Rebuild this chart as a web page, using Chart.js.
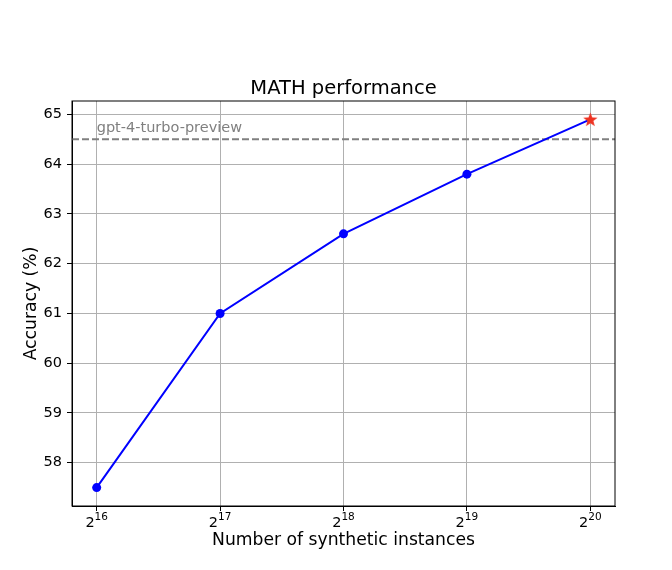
<!DOCTYPE html>
<html>
<head>
<meta charset="utf-8">
<script src="https://cdn.jsdelivr.net/npm/chart.js@4.4.1/dist/chart.umd.min.js"></script>
<style>
  body { margin: 0; background: #fff; }
  #wrap { width: 672px; height: 570px; }
</style>
</head>
<body>
<div id="wrap"><canvas id="mathChart" width="672" height="570"></canvas></div>
<script>
// x = log2 of the number of synthetic instances
const exponents = [16, 17, 18, 19, 20];
const accuracy = [57.5, 61.0, 62.6, 63.8, 64.9];
const yTicks = [58, 59, 60, 61, 62, 63, 64, 65];
const refValue = 64.5;
const refLabel = 'gpt-4-turbo-preview';
const chartTitle = 'MATH performance';

const FONT = 'DejaVu Sans';

// filled five-point star for the last point
function makeStar(r, color) {
  const c = document.createElement('canvas');
  const s = Math.ceil(r * 2 + 2);
  c.width = s; c.height = s;
  const g = c.getContext('2d');
  g.fillStyle = color;
  g.beginPath();
  for (let i = 0; i < 10; i++) {
    const rad = i % 2 === 0 ? r : r * 0.42;
    const a = -Math.PI / 2 + i * Math.PI / 5;
    const px = s / 2 + rad * Math.cos(a);
    const py = s / 2 + 0.6 + rad * Math.sin(a);
    if (i === 0) g.moveTo(px, py); else g.lineTo(px, py);
  }
  g.closePath();
  g.fill();
  return c;
}
const star = makeStar(7.5, '#ee3322');

const points = exponents.map((e, i) => ({ x: e, y: accuracy[i] }));
const last = points.length - 1;

const extras = {
  id: 'extras',
  beforeDatasetsDraw(chart) {
    const { ctx, chartArea, scales } = chart;
    const y = scales.y.getPixelForValue(refValue);
    ctx.save();
    ctx.strokeStyle = '#808080';
    ctx.lineWidth = 2;
    ctx.setLineDash([7, 3]);
    ctx.beginPath();
    ctx.moveTo(chartArea.left, y);
    ctx.lineTo(chartArea.right, y);
    ctx.stroke();
    ctx.setLineDash([]);
    ctx.fillStyle = '#808080';
    ctx.font = '14.5px "' + FONT + '"';
    ctx.textAlign = 'left';
    ctx.textBaseline = 'alphabetic';
    ctx.fillText(refLabel, scales.x.getPixelForValue(exponents[0]), y - 7.5);
    ctx.restore();
  },
  afterDraw(chart) {
    const { ctx, chartArea, scales } = chart;
    ctx.save();
    // four black spines
    ctx.strokeStyle = '#000';
    ctx.lineWidth = 1;
    ctx.strokeRect(chartArea.left, chartArea.top, chartArea.right - chartArea.left, chartArea.bottom - chartArea.top);
    // title centred over the axes
    ctx.fillStyle = '#000';
    ctx.font = '19.5px "' + FONT + '"';
    ctx.textAlign = 'center';
    ctx.textBaseline = 'alphabetic';
    ctx.fillText(chartTitle, (chartArea.left + chartArea.right) / 2, chartArea.top - 7);
    // x tick labels as 2^n
    ctx.textAlign = 'left';
    exponents.forEach(e => {
      const x = scales.x.getPixelForValue(e);
      ctx.font = '14.5px "' + FONT + '"';
      const wb = ctx.measureText('2').width;
      ctx.font = '10.5px "' + FONT + '"';
      const we = ctx.measureText(String(e)).width;
      const x0 = x - (wb + we) / 2;
      ctx.font = '14.5px "' + FONT + '"';
      ctx.fillText('2', x0, chartArea.bottom + 21);
      ctx.font = '10.5px "' + FONT + '"';
      ctx.fillText(String(e), x0 + wb, chartArea.bottom + 14);
    });
    ctx.restore();
  }
};

new Chart(document.getElementById('mathChart'), {
  type: 'line',
  data: {
    datasets: [{
      data: points,
      borderColor: '#0000ff',
      backgroundColor: '#0000ff',
      borderWidth: 2,
      pointRadius: points.map((p, i) => i === last ? 7.5 : 4.5),
      pointStyle: points.map((p, i) => i === last ? star : 'circle'),
      pointBorderWidth: 0,
      pointBackgroundColor: '#0000ff',
      tension: 0
    }]
  },
  options: {
    responsive: false,
    animation: false,
    devicePixelRatio: 1,
    layout: { autoPadding: false, padding: { top: 101, left: 0, right: 57, bottom: 0 } },
    plugins: {
      legend: { display: false },
      tooltip: { enabled: false },
      title: { display: false }
    },
    scales: {
      x: {
        type: 'linear',
        min: 15.8,
        max: 20.2,
        afterBuildTicks: s => { s.ticks = exponents.map(v => ({ value: v })); },
        afterFit: s => { s.height = 64; },
        ticks: { display: false },
        grid: { color: '#b0b0b0', lineWidth: 1, tickColor: '#000', tickLength: 5, drawTicks: true },
        border: { color: '#000', width: 1 },
        title: {
          display: true,
          text: 'Number of synthetic instances',
          color: '#000',
          font: { family: FONT, size: 17.2, lineHeight: 1.2 },
          padding: { top: 0, bottom: 19 }
        }
      },
      y: {
        type: 'linear',
        min: 57.13,
        max: 65.27,
        afterBuildTicks: s => { s.ticks = yTicks.map(v => ({ value: v })); },
        afterFit: s => { s.width = 72; },
        ticks: { color: '#000', font: { family: FONT, size: 14.5 }, padding: 5, callback: v => String(v) },
        grid: { color: '#b0b0b0', lineWidth: 1, tickColor: '#000', tickLength: 5, drawTicks: true },
        border: { color: '#000', width: 1 },
        title: {
          display: true,
          text: 'Accuracy (%)',
          color: '#000',
          font: { family: FONT, size: 17.2, lineHeight: 1.2 },
          padding: { top: 21, bottom: 0 }
        }
      }
    }
  },
  plugins: [extras]
});
</script>
</body>
</html>
